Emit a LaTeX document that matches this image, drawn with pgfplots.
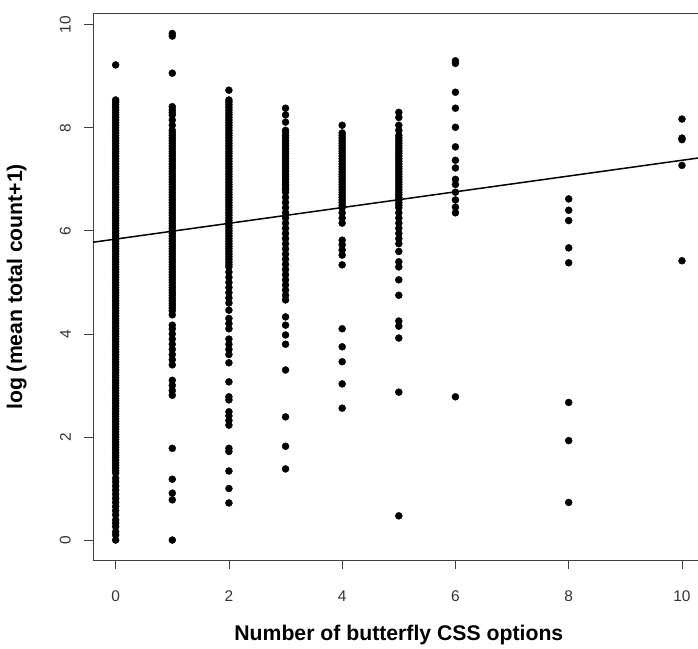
\documentclass[border=0pt]{standalone}
\usepackage{fontspec}
\setmainfont{Liberation Sans}
\usepackage{pgfplots}
\pgfplotsset{compat=1.18}
\begin{document}
\begin{tikzpicture}
\path[use as bounding box] (-93bp,-88.7bp) rectangle (605bp,560.3bp);
\begin{axis}[
  at={(0,0)}, anchor=south west,
  scale only axis, width=605bp, height=546.9bp,
  xmin=-0.4, xmax=10.283, ymin=-0.393, ymax=10.22,
  axis lines=left,
  axis line style={-, black!75, line width=0.8bp},
  tick style={black!75, line width=0.8bp},
  tick align=outside, major tick length=9bp,
  xtick={0,2,4,6,8,10}, ytick={0,2,4,6,8,10},
  /pgf/number format/assume math mode=true,
  ticklabel style={font=\fontsize{15.5}{18}\selectfont, text=black!80},
  xticklabel style={anchor=north, inner sep=0pt, yshift=-21bp},
  yticklabel style={xshift=-13bp, rotate=90, anchor=south, inner sep=0pt},
  xlabel={Number of butterfly CSS options},
  ylabel={log (mean total count+1)},
  label style={font=\fontsize{21.3}{25}\selectfont\bfseries},
  xlabel style={at={(axis description cs:0.5055,-0.137)}, anchor=center},
  ylabel style={at={(axis description cs:-0.126,0.5)}, anchor=center, rotate=0},
  clip=true,
]
\draw[black!75, line width=0.8bp] (rel axis cs:0,1) -- (rel axis cs:1,1);
\addplot[only marks, mark=*, mark size=3.5bp, black] coordinates {
(0,0) (0,0.1) (0,0.16) (0,0.26) (0,0.33) (0,0.39) (0,0.49) (0,0.57) (0,0.65) (0,0.73) (0,0.81) (0,0.89) (0,0.97) (0,1.05) (0,1.13) (0,1.2)
(0,1.3) (0,1.4) (0,1.5) (0,1.6) (0,1.7) (0,1.8) (0,1.9) (0,2.0) (0,2.1) (0,2.2) (0,2.3) (0,2.4) (0,2.5) (0,2.6) (0,2.7) (0,2.8) (0,2.9)
(0,3.0) (0,3.1) (0,3.2) (0,3.3) (0,3.4) (0,3.5) (0,3.6) (0,3.7) (0,3.8) (0,3.9) (0,4.0) (0,4.1) (0,4.2) (0,4.3) (0,4.4) (0,4.5) (0,4.6)
(0,4.7) (0,4.8) (0,4.9) (0,5.0) (0,5.1) (0,5.2) (0,5.3) (0,5.4) (0,5.5) (0,5.6) (0,5.7) (0,5.8) (0,5.9) (0,6.0) (0,6.1) (0,6.2) (0,6.3)
(0,6.4) (0,6.5) (0,6.6) (0,6.7) (0,6.8) (0,6.9) (0,7.0) (0,7.1) (0,7.2) (0,7.3) (0,7.4) (0,7.5) (0,7.6) (0,7.7) (0,7.8) (0,7.9) (0,8.0)
(0,8.1) (0,8.2) (0,8.3) (0,8.4) (0,8.5) (0,8.54) (0,9.22)
(0,1.35) (0,1.45) (0,1.55) (0,1.65) (0,1.75) (0,1.85) (0,1.95) (0,2.05) (0,2.15) (0,2.25) (0,2.35) (0,2.45) (0,2.55) (0,2.65) (0,2.75)
(0,2.85) (0,2.95) (0,3.05) (0,3.15) (0,3.25) (0,3.35) (0,3.45) (0,3.55) (0,3.65) (0,3.75) (0,3.85) (0,3.95) (0,4.05) (0,4.15) (0,4.25)
(0,4.35) (0,4.45) (0,4.55) (0,4.65) (0,4.75) (0,4.85) (0,4.95) (0,5.05) (0,5.15) (0,5.25) (0,5.35) (0,5.45) (0,5.55) (0,5.65) (0,5.75)
(0,5.85) (0,5.95) (0,6.05) (0,6.15) (0,6.25) (0,6.35) (0,6.45) (0,6.55) (0,6.65) (0,6.75) (0,6.85) (0,6.95) (0,7.05) (0,7.15) (0,7.25)
(0,7.35) (0,7.45) (0,7.55) (0,7.65) (0,7.75) (0,7.85) (0,7.95) (0,8.05) (0,8.15) (0,8.25) (0,8.35) (0,8.45)
(1,0) (1,0.78) (1,0.91) (1,1.18) (1,1.78) (1,2.81) (1,2.9) (1,3.0) (1,3.1) (1,3.4) (1,3.5) (1,3.6) (1,3.7) (1,3.8) (1,3.9) (1,4.0) (1,4.1) (1,4.17)
(1,4.37) (1,4.45) (1,4.55) (1,4.65) (1,4.75) (1,4.85) (1,4.95) (1,5.05) (1,5.15) (1,5.25) (1,5.35) (1,5.45) (1,5.55) (1,5.65) (1,5.75)
(1,5.85) (1,5.95) (1,6.05) (1,6.15) (1,6.25) (1,6.35) (1,6.45) (1,6.55) (1,6.65) (1,6.75) (1,6.85) (1,6.95) (1,7.05) (1,7.15) (1,7.25)
(1,7.35) (1,7.45) (1,7.55) (1,7.65) (1,7.75) (1,7.85) (1,7.95) (1,8.05) (1,8.15) (1,8.25) (1,8.35) (1,8.41) (1,9.06) (1,9.78) (1,9.83)
(1,4.5) (1,4.6) (1,4.7) (1,4.8) (1,4.9) (1,5.0) (1,5.1) (1,5.2) (1,5.3) (1,5.4) (1,5.5) (1,5.6) (1,5.7) (1,5.8) (1,5.9) (1,6.0) (1,6.1)
(1,6.2) (1,6.3) (1,6.4) (1,6.5) (1,6.6) (1,6.7) (1,6.8) (1,6.9) (1,7.0) (1,7.1) (1,7.2) (1,7.3) (1,7.4) (1,7.5) (1,7.6) (1,7.7) (1,7.8)
(1,7.9) (1,8.3)
(2,0.72) (2,1.0) (2,1.34) (2,1.72) (2,1.78) (2,2.23) (2,2.32) (2,2.41) (2,2.49) (2,2.72) (2,2.78) (2,3.07) (2,3.44) (2,3.6) (2,3.7) (2,3.8)
(2,3.9) (2,4.1) (2,4.2) (2,4.3) (2,4.46) (2,4.6) (2,4.7) (2,4.8) (2,4.9) (2,5.0) (2,5.1) (2,5.2) (2,5.3) (2,5.4) (2,5.5) (2,5.6) (2,5.7)
(2,5.8) (2,5.9) (2,6.0) (2,6.1) (2,6.2) (2,6.3) (2,6.4) (2,6.5) (2,6.6) (2,6.7) (2,6.8) (2,6.9) (2,7.0) (2,7.1) (2,7.2) (2,7.3) (2,7.4)
(2,7.5) (2,7.6) (2,7.7) (2,7.8) (2,7.9) (2,8.0) (2,8.1) (2,8.2) (2,8.3) (2,8.4) (2,8.5) (2,8.54) (2,8.73)
(2,5.35) (2,5.45) (2,5.55) (2,5.65) (2,5.75) (2,5.85) (2,5.95) (2,6.05) (2,6.15) (2,6.25) (2,6.35) (2,6.45) (2,6.55) (2,6.65) (2,6.75)
(2,6.85) (2,6.95) (2,7.05) (2,7.15) (2,7.25) (2,7.35) (2,7.45) (2,7.55) (2,7.65) (2,7.75) (2,7.85) (2,7.95) (2,8.05) (2,8.15) (2,8.25)
(2,8.35) (2,8.45)
(3,1.38) (3,1.82) (3,2.39) (3,3.3) (3,3.8) (3,3.98) (3,4.17) (3,4.33) (3,4.66) (3,4.75) (3,4.85) (3,4.95) (3,5.05) (3,5.15) (3,5.25)
(3,5.35) (3,5.45) (3,5.55) (3,5.65) (3,5.75) (3,5.85) (3,5.95) (3,6.05) (3,6.15) (3,6.25) (3,6.35) (3,6.45) (3,6.55) (3,6.65) (3,6.75)
(3,6.85) (3,6.95) (3,7.05) (3,7.15) (3,7.25) (3,7.35) (3,7.45) (3,7.55) (3,7.65) (3,7.75) (3,7.85) (3,7.95) (3,8.11) (3,8.25) (3,8.38)
(3,6.8) (3,6.9) (3,7.0) (3,7.1) (3,7.2) (3,7.3) (3,7.4) (3,7.5) (3,7.6) (3,7.7) (3,7.8) (3,7.9)
(4,2.56) (4,3.03) (4,3.46) (4,3.75) (4,4.1) (4,5.34) (4,5.53) (4,5.63) (4,5.73) (4,5.82) (4,6.15) (4,6.25) (4,6.35) (4,6.45) (4,6.55)
(4,6.65) (4,6.75) (4,6.85) (4,6.95) (4,7.05) (4,7.15) (4,7.25) (4,7.35) (4,7.45) (4,7.55) (4,7.65) (4,7.75) (4,7.85) (4,7.9) (4,8.05)
(4,6.5) (4,6.6) (4,6.7) (4,6.8) (4,6.9) (4,7.0) (4,7.1) (4,7.2) (4,7.3) (4,7.4) (4,7.5) (4,7.6) (4,7.7) (4,7.8)
(5,0.47) (5,2.87) (5,3.92) (5,4.15) (5,4.25) (5,4.75) (5,5.05) (5,5.3) (5,5.4) (5,5.6) (5,5.75) (5,5.85) (5,5.95) (5,6.05) (5,6.15)
(5,6.25) (5,6.35) (5,6.45) (5,6.55) (5,6.65) (5,6.75) (5,6.85) (5,6.95) (5,7.05) (5,7.15) (5,7.25) (5,7.35) (5,7.45) (5,7.55) (5,7.65)
(5,7.75) (5,7.85) (5,7.95) (5,8.05) (5,8.2) (5,8.3)
(5,6.5) (5,6.6) (5,6.7) (5,6.8) (5,6.9) (5,7.0) (5,7.1) (5,7.2) (5,7.3) (5,7.4) (5,7.5) (5,7.6) (5,7.7) (5,7.8)
(6,2.78) (6,6.35) (6,6.46) (6,6.6) (6,6.75) (6,6.9) (6,7.0) (6,7.22) (6,7.37) (6,7.63) (6,8.01) (6,8.38) (6,8.69) (6,9.25) (6,9.3)
(8,0.73) (8,1.93) (8,2.67) (8,5.38) (8,5.67) (8,6.2) (8,6.4) (8,6.62)
(10,5.42) (10,7.27) (10,7.77) (10,7.8) (10,8.17)
};
\addplot[black, line width=1.5bp] coordinates {(-0.4,5.779) (10.283,7.413)};
\end{axis}
\end{tikzpicture}
\end{document}
